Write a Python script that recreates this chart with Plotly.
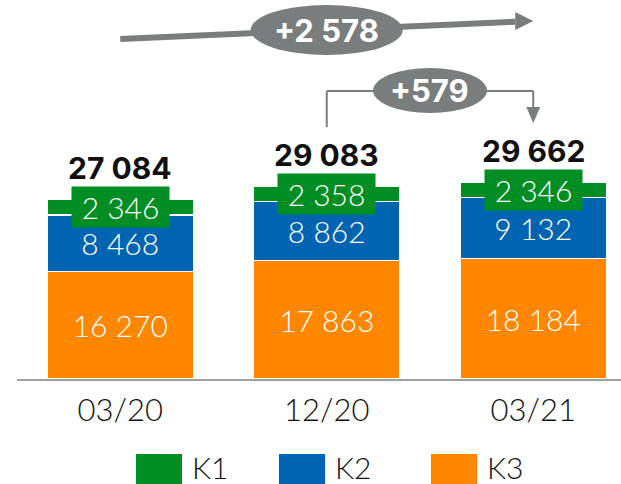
import plotly.graph_objects as go

# data
periods = ["03/20", "12/20", "03/21"]
k1 = [2346, 2358, 2346]
k2 = [8468, 8862, 9132]
k3 = [16270, 17863, 18184]
series_names = ["K1", "K2", "K3"]
change_total = 2578
change_last = 579

COLORS = {"K1": "#008E24", "K2": "#0064B0", "K3": "#FF8700"}
GREY = "#797D7D"
BOLD_FONT = "Inter"
LIGHT_FONT = "Lato"

# figure geometry (pixels)
W, H = 621, 484
M_L, M_R, M_T, M_B = 17, 0, 0, 105
PLOT_H = H - M_T - M_B
PLOT_W = W - M_L - M_R
X_RANGE = [-0.5, 2.425]
Y_MAX = 57160
UNIT_PX = PLOT_W / (X_RANGE[1] - X_RANGE[0])


def fmt(v):
    return f"{v:,}".replace(",", " ")


def y_at(py):
    # pixel row -> data value
    return (PLOT_H - py) * Y_MAX / PLOT_H


def px_paper(px):
    return (px - M_L) / PLOT_W


def py_paper(py):
    return (PLOT_H - py) / PLOT_H


light = dict(family=LIGHT_FONT, size=30, color="white", weight=300)
dark = dict(family=LIGHT_FONT, size=31, color="#111111", weight=300)
totals = [a + b + c for a, b, c in zip(k1, k2, k3)]

fig = go.Figure()
for name, vals in [("K3", k3), ("K2", k2), ("K1", k1)]:
    fig.add_trace(go.Bar(
        x=periods, y=vals, name=name,
        width=0.707,
        marker=dict(color=COLORS[name], line=dict(color="white", width=1.2)),
        text=[fmt(v) for v in vals] if name != "K1" else None,
        textposition="inside" if name != "K1" else "none",
        insidetextanchor="middle",
        textangle=0,
        textfont=light,
        hoverinfo="skip",
        showlegend=False,
    ))

# K1 labels on green boxes, totals above
for i, p in enumerate(periods):
    fig.add_annotation(
        x=p, y=k3[i] + k2[i] + k1[i] / 2, text=fmt(k1[i]),
        showarrow=False, bgcolor=COLORS["K1"], width=95, height=38,
        font=light,
    )
    fig.add_annotation(
        x=p, y=totals[i], text=f"<b>{fmt(totals[i])}</b>",
        showarrow=False, yshift=31, yanchor="middle",
        font=dict(family=BOLD_FONT, size=30, color="#111111"),
    )

# long arrow 03/20 -> 03/21
y_start, y_tip = y_at(39), y_at(21)
head_len = 18
x_end = 2 - head_len / UNIT_PX
y_end = y_start + (y_tip - y_start) * (x_end - 0) / 2
fig.add_shape(type="line", x0=0, x1=x_end, y0=y_start, y1=y_end,
              line=dict(color=GREY, width=6), layer="above")
fig.add_shape(type="path", xsizemode="pixel", ysizemode="pixel",
              xanchor=2, yanchor=y_tip, path="M 0 0 L -18 9 L -18 -9 Z",
              fillcolor=GREY, line=dict(width=0), layer="above")
fig.add_shape(type="circle", xsizemode="pixel", ysizemode="pixel",
              xanchor=1, yanchor=y_at(30), x0=-76, x1=76, y0=-25, y1=25,
              fillcolor=GREY, line=dict(width=0), layer="above")
fig.add_annotation(x=1, y=y_at(30), text=f"<b>+{fmt(change_total)}</b>",
                   showarrow=False, font=dict(family=BOLD_FONT, size=31, color="white"))

# bracket arrow 12/20 -> 03/21
y_br = y_at(91)
fig.add_shape(type="line", x0=1, x1=1, y0=y_at(127), y1=y_br,
              line=dict(color=GREY, width=2), layer="above")
fig.add_shape(type="line", x0=1, x1=2, y0=y_br, y1=y_br,
              line=dict(color=GREY, width=2), layer="above")
fig.add_shape(type="line", x0=2, x1=2, y0=y_br, y1=y_at(108),
              line=dict(color=GREY, width=2), layer="above")
fig.add_shape(type="path", xsizemode="pixel", ysizemode="pixel",
              xanchor=2, yanchor=y_at(123), path="M 0 0 L -7 16 L 7 16 Z",
              fillcolor=GREY, line=dict(width=0), layer="above")
fig.add_shape(type="circle", xsizemode="pixel", ysizemode="pixel",
              xanchor=1.5, yanchor=y_at(90.5), x0=-57, x1=57, y0=-22.5, y1=22.5,
              fillcolor=GREY, line=dict(width=0), layer="above")
fig.add_annotation(x=1.5, y=y_at(90.5), text=f"<b>+{fmt(change_last)}</b>",
                   showarrow=False, font=dict(family=BOLD_FONT, size=31, color="white"))

# legend drawn by hand (large swatches)
legend_px = {"K1": 136, "K2": 279, "K3": 431}
for name in series_names:
    x0 = legend_px[name]
    fig.add_shape(type="rect", xref="paper", yref="paper",
                  x0=px_paper(x0), x1=px_paper(x0 + 46),
                  y0=py_paper(454), y1=py_paper(492),
                  fillcolor=COLORS[name], line=dict(width=0))
    fig.add_annotation(xref="paper", yref="paper",
                       x=px_paper(x0 + 54), y=py_paper(467), text=name,
                       xanchor="left", yanchor="middle", showarrow=False,
                       font=dict(dark, size=30))

fig.update_layout(
    barmode="stack",
    width=W, height=H,
    margin=dict(l=M_L, r=M_R, t=M_T, b=M_B),
    paper_bgcolor="white", plot_bgcolor="white",
    separators=". ",
    font=dict(family=LIGHT_FONT, color="#111111"),
    xaxis=dict(
        range=X_RANGE, showgrid=False, zeroline=False,
        showline=True, linecolor="#A0A0A0", linewidth=2,
        ticks="", ticklabelstandoff=3,
        tickfont=dark,
    ),
    yaxis=dict(range=[0, Y_MAX], visible=False),
)

# page body has a default 8px margin; remove it so the figure sits at 0,0
fig.write_html("out.html", config={"displayModeBar": False},
               post_script="document.body.style.margin='0';")
